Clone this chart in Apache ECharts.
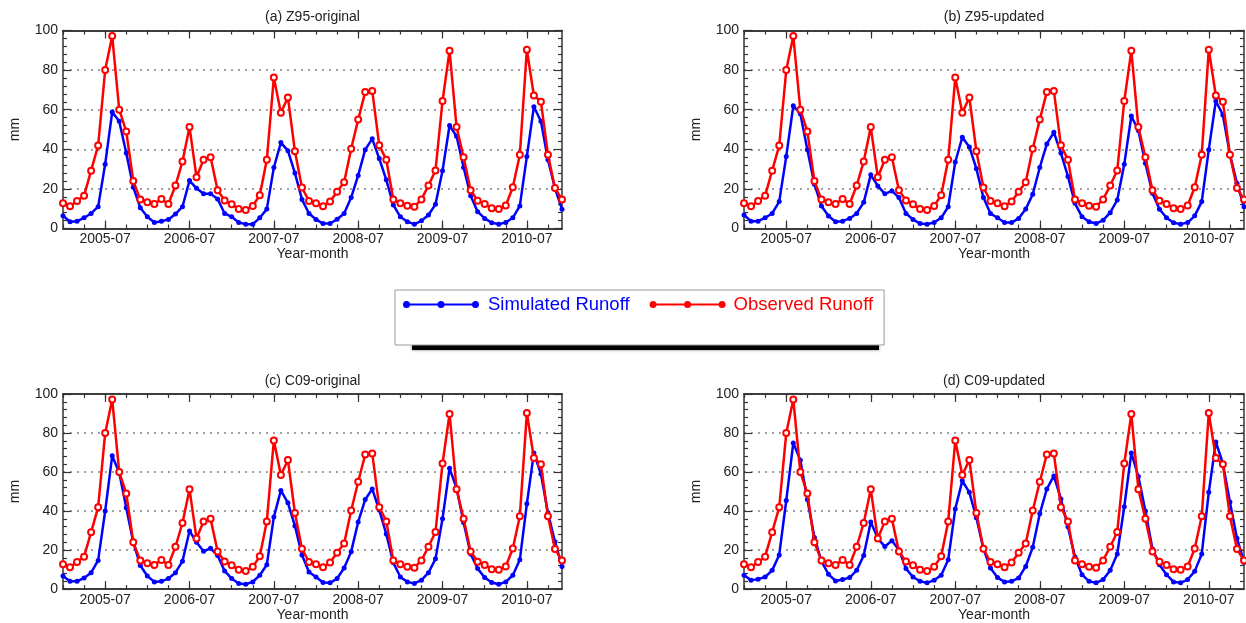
<!DOCTYPE html>
<html>
<head>
<meta charset="utf-8">
<title>Monthly runoff: simulated vs observed</title>
<script src="https://cdn.jsdelivr.net/npm/echarts@6/dist/echarts.min.js"></script>
<style>
  html, body { margin: 0; padding: 0; background: #fff; }
  #chart { width: 1246px; height: 623px; }
</style>
</head>
<body>
<div id="chart"></div>
<script>
// Month categories, Jan 2005 .. Dec 2010
const years = ['2005', '2006', '2007', '2008', '2009', '2010'];
const monthNums = ['01', '02', '03', '04', '05', '06', '07', '08', '09', '10', '11', '12'];
const months = years.flatMap(y => monthNums.map(m => y + '-' + m));

// Observed runoff (mm), shared by all panels
const observed = [
  12.7, 11.2, 13.9, 16.6, 29.2, 41.9, 80.0, 97.2, 60.0, 49.0, 24.0, 14.6,
  13.2, 12.4, 14.9, 12.4, 21.7, 33.9, 51.2, 25.9, 34.7, 36.0, 19.3, 14.2,
  12.2, 9.9, 9.3, 11.4, 16.8, 34.7, 76.2, 58.5, 66.2, 39.0, 20.7, 13.9,
  12.7, 11.2, 13.6, 18.6, 23.4, 40.3, 55.0, 69.0, 69.5, 42.0, 34.7, 14.6,
  12.7, 11.5, 11.0, 14.7, 21.7, 29.3, 64.4, 89.8, 51.2, 36.0, 19.3, 14.0,
  12.4, 10.2, 9.9, 11.6, 20.8, 37.3, 90.3, 67.2, 64.0, 37.3, 20.5, 14.6
];

// Simulated runoff (mm) for each parameter set
const simZ95Original = [
  6.4, 3.4, 3.7, 5.4, 7.6, 11.0, 32.5, 58.8, 54.2, 38.1, 20.8, 10.5,
  5.9, 3.0, 3.7, 4.6, 7.3, 11.0, 24.2, 20.3, 17.5, 17.5, 14.9, 7.6,
  5.9, 3.0, 2.2, 2.2, 5.4, 9.8, 30.8, 43.4, 39.3, 28.0, 14.7, 7.6,
  4.6, 2.5, 2.5, 4.7, 7.6, 15.6, 26.8, 39.8, 45.3, 35.3, 24.6, 11.9,
  5.9, 3.4, 2.2, 3.9, 6.8, 12.2, 29.2, 52.0, 46.6, 30.8, 16.6, 8.5,
  5.1, 2.9, 2.2, 3.0, 5.4, 11.4, 36.4, 61.5, 54.2, 34.7, 20.3, 9.7
];
const simZ95Updated = [
  6.8, 3.7, 3.7, 5.4, 7.6, 13.6, 36.4, 62.0, 58.0, 39.8, 22.4, 11.4,
  6.3, 3.4, 3.7, 5.1, 7.6, 13.2, 27.1, 21.5, 17.5, 19.0, 15.6, 7.6,
  4.6, 2.5, 2.2, 3.0, 5.4, 11.0, 33.6, 46.1, 41.2, 30.2, 15.6, 7.6,
  5.4, 3.0, 3.0, 5.1, 9.8, 17.3, 30.8, 42.7, 48.6, 38.1, 26.3, 12.7,
  5.9, 3.4, 2.5, 4.2, 8.0, 14.4, 32.5, 56.8, 49.5, 33.0, 17.8, 9.7,
  5.4, 2.9, 2.2, 3.0, 6.4, 13.6, 39.8, 64.4, 57.3, 37.3, 22.9, 11.0
];
const simC09Original = [
  6.7, 4.0, 4.0, 5.7, 8.4, 14.7, 40.0, 68.3, 59.7, 41.7, 24.0, 12.1,
  6.7, 3.7, 4.0, 5.4, 8.4, 14.3, 29.8, 24.0, 19.4, 20.9, 17.2, 9.3,
  5.4, 2.9, 2.5, 3.7, 7.1, 12.5, 36.9, 50.6, 44.2, 32.4, 17.5, 8.8,
  6.2, 3.4, 3.2, 5.4, 10.8, 19.2, 34.4, 45.9, 51.3, 40.5, 28.2, 13.5,
  6.2, 3.7, 2.9, 4.6, 8.4, 15.5, 36.1, 61.9, 51.8, 34.1, 18.0, 10.5,
  5.9, 3.4, 2.5, 3.7, 7.1, 15.0, 43.7, 69.8, 59.0, 39.1, 24.3, 11.6
];
const simC09Updated = [
  7.1, 4.6, 5.1, 6.2, 9.6, 17.5, 45.4, 74.9, 66.1, 45.9, 26.5, 14.2,
  7.6, 4.2, 4.9, 5.9, 9.6, 17.2, 34.4, 26.0, 21.8, 24.8, 20.2, 10.5,
  6.2, 4.0, 3.2, 4.6, 7.1, 15.0, 41.1, 55.5, 49.6, 36.6, 20.6, 10.8,
  5.9, 3.7, 4.0, 5.7, 11.6, 21.4, 38.6, 51.3, 58.0, 46.2, 31.9, 16.4,
  7.4, 4.0, 3.2, 4.9, 9.6, 18.0, 42.2, 69.8, 57.7, 40.0, 20.6, 12.5,
  7.4, 3.7, 3.2, 4.9, 9.1, 18.0, 49.6, 75.4, 64.4, 44.7, 26.1, 13.8
];

const panelTitles = ['(a) Z95-original', '(b) Z95-updated', '(c) C09-original', '(d) C09-updated'];
const panelSims = [simZ95Original, simZ95Updated, simC09Original, simC09Updated];

const seriesNames = ['Simulated Runoff', 'Observed Runoff'];
const BLUE = '#0000ff';
const RED = '#ff0000';
const FONT = '"Liberation Sans", Arial, Helvetica, sans-serif';
const INK = '#222';
const FRAME = '#333';

// Plot rectangles of the 2x2 layout
const boxes = [
  { left: 63, top: 30.5, width: 499, height: 198 },
  { left: 744, top: 30.5, width: 500, height: 198 },
  { left: 63, top: 394, width: 499, height: 198 },
  { left: 744, top: 394, width: 500, height: 198 }
];

const isJuly = idx => idx % 12 === 6;

const grid = [], xAxis = [], yAxis = [], series = [], title = [];

boxes.forEach((b, p) => {
  grid.push({ left: b.left, top: b.top, width: b.width, height: b.height, containLabel: false });

  title.push({
    text: panelTitles[p],
    left: b.left + b.width / 2,
    top: b.top - 20,
    textAlign: 'center',
    padding: 0,
    textStyle: { fontFamily: FONT, fontSize: 14, fontWeight: 'normal', color: INK }
  });

  const baseX = {
    type: 'category', gridIndex: p, data: months, boundaryGap: false,
    axisLine: { show: true, onZero: false, lineStyle: { color: FRAME, width: 1.5 } },
    axisLabel: { show: false },
    splitLine: { show: false }
  };
  // bottom: yearly labels + long ticks at July
  xAxis.push(Object.assign({}, baseX, {
    position: 'bottom',
    name: 'Year-month', nameLocation: 'middle', nameGap: 18,
    nameTextStyle: { fontFamily: FONT, fontSize: 14, color: INK },
    axisTick: { show: true, inside: true, length: 8, interval: isJuly, lineStyle: { color: FRAME, width: 1.2 } },
    axisLabel: { show: true, interval: isJuly, margin: 4, fontFamily: FONT, fontSize: 14, color: INK }
  }));
  // bottom: quarterly short ticks
  xAxis.push(Object.assign({}, baseX, {
    position: 'bottom',
    axisTick: { show: true, inside: true, length: 4, interval: 2, lineStyle: { color: FRAME, width: 1.2 } }
  }));
  // top frame: quarterly short ticks
  xAxis.push(Object.assign({}, baseX, {
    position: 'top',
    axisTick: { show: true, inside: true, length: 4, interval: 2, lineStyle: { color: FRAME, width: 1.2 } }
  }));
  // top frame: long ticks at July
  xAxis.push(Object.assign({}, baseX, {
    position: 'top',
    axisTick: { show: true, inside: true, length: 8, interval: isJuly, lineStyle: { color: FRAME, width: 1.2 } }
  }));

  const baseY = {
    type: 'value', gridIndex: p, min: 0, max: 100, interval: 20,
    axisLine: { show: true, lineStyle: { color: FRAME, width: 1.5 } },
    axisTick: { show: true, inside: true, length: 8, lineStyle: { color: FRAME, width: 1.2 } },
    minorTick: { show: true, splitNumber: 5, length: 4, lineStyle: { color: FRAME, width: 1.2 } }
  };
  yAxis.push(Object.assign({}, baseY, {
    position: 'left',
    name: 'mm', nameLocation: 'middle', nameGap: 41,
    nameTextStyle: { fontFamily: FONT, fontSize: 14, color: INK },
    axisLabel: { show: true, margin: 5, fontFamily: FONT, fontSize: 14, color: INK },
    splitLine: { show: true, lineStyle: { color: '#808080', width: 1.5, type: [2, 5] } }
  }));
  yAxis.push(Object.assign({}, baseY, {
    position: 'right',
    axisLabel: { show: false },
    splitLine: { show: false }
  }));

  series.push({
    name: seriesNames[0], type: 'line',
    xAxisIndex: p * 4, yAxisIndex: p * 2,
    data: panelSims[p],
    symbol: 'circle', symbolSize: 5,
    showSymbol: true, showAllSymbol: true,
    lineStyle: { color: BLUE, width: 2.5 },
    itemStyle: { color: BLUE },
    z: 3
  });
  series.push({
    name: seriesNames[1], type: 'line',
    xAxisIndex: p * 4, yAxisIndex: p * 2,
    data: observed,
    symbol: 'emptyCircle', symbolSize: 6,
    showSymbol: true, showAllSymbol: true,
    lineStyle: { color: RED, width: 2.5 },
    itemStyle: { color: RED, borderColor: RED, borderWidth: 1.3 },
    z: 4
  });
});

// legend key: a line with three dots, in a 76 x 7 box (all sub-paths wound clockwise)
const keyIcon = 'path://' +
  'M3.5,2.5L72.5,2.5L72.5,4.5L3.5,4.5Z' +
  'M0,3.5a3.5,3.5 0 1,1 7,0a3.5,3.5 0 1,1 -7,0Z' +
  'M34.5,3.5a3.5,3.5 0 1,1 7,0a3.5,3.5 0 1,1 -7,0Z' +
  'M69,3.5a3.5,3.5 0 1,1 7,0a3.5,3.5 0 1,1 -7,0Z';

const option = {
  animation: false,
  backgroundColor: '#ffffff',
  title,
  grid,
  xAxis,
  yAxis,
  series,
  legend: {
    left: 395, top: 290,
    orient: 'horizontal',
    padding: [5, 11, 31, 8],
    itemWidth: 76, itemHeight: 7, itemGap: 20,
    backgroundColor: '#ffffff',
    borderColor: '#9a9a9a', borderWidth: 1,
    selectedMode: false,
    textStyle: { fontFamily: FONT, fontSize: 18.5 },
    data: [
      { name: seriesNames[0], icon: keyIcon, itemStyle: { color: BLUE, borderWidth: 0 }, textStyle: { color: BLUE, padding: [0, 0, 0, 4] } },
      { name: seriesNames[1], icon: keyIcon, itemStyle: { color: RED, borderWidth: 0 }, textStyle: { color: RED, padding: [0, 0, 0, 3] } }
    ]
  },
  graphic: [
    {
      type: 'rect', left: 412, top: 345, z: -1,
      shape: { width: 467, height: 5 },
      style: { fill: '#000', shadowBlur: 3, shadowColor: 'rgba(0,0,0,0.5)' }
    }
  ]
};

const chart = echarts.init(document.getElementById('chart'), null, { renderer: 'canvas' });
chart.setOption(option);
</script>
</body>
</html>
